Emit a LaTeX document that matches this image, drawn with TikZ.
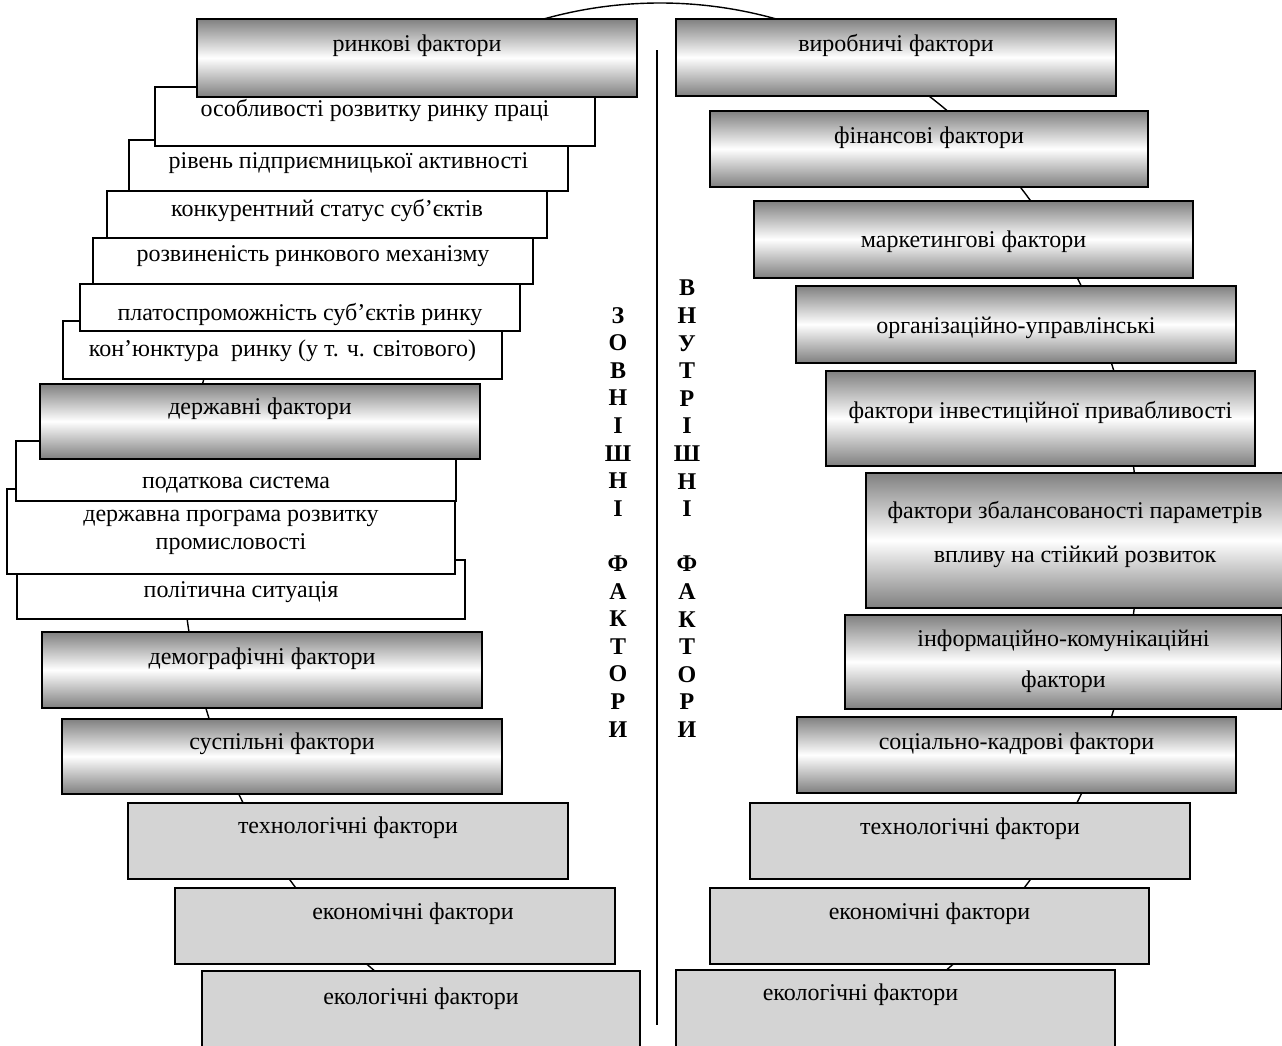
\documentclass[tikz,border=0pt]{standalone}
\usepackage{fontspec}
\setmainfont{Liberation Serif}
\tikzset{
    factor/.style n args={3}{
        draw,line width=1.6pt,anchor=north,inner sep=0pt,
        minimum width=#1pt,text height=#2pt,text depth=#3pt,
        align=center,font=\fontsize{24}{27.6}\selectfont
    },
    gradbox/.style={top color=black!50,bottom color=black!50,middle color=white},
    whitebox/.style={fill=white},
    greybox/.style={fill=black!17},
    letters/.style={anchor=north,inner sep=0pt,align=center,
        font=\fontsize{24}{27.6}\selectfont\bfseries},
}
\begin{document}
\begin{tikzpicture}[x=1pt,y=-1pt]
		\useasboundingbox (0,0) rectangle (1282,1045);
		\draw[line width=1.4pt] (660,540) ellipse [x radius=478,y radius=537];
		\draw[line width=1.4pt] (657,50) -- (657,1025);

		% external factors (lower boxes first)
		\node[factor={448}{38}{21},whitebox] (polit) at (241,559) {політична ситуація};
		\node[factor={448}{60.6}{24.4},whitebox] (prog) at (231,488) {державна програма розвитку\\промисловості};
		\node[factor={440}{48}{12},whitebox] (podat) at (236,440) {податкова система};
		\node[factor={440}{31}{44},gradbox] (derzh) at (260,383) {державні фактори};
		\node[factor={439}{36}{22},whitebox] (konj) at (282.5,320) {кон’юнктура\ \ ринку (у т. ч. світового)};
		\node[factor={440}{37}{10},whitebox] (plat) at (300,283) {платоспроможність суб’єктів ринку};
		\node[factor={440}{24}{22},whitebox] (rozv) at (313,237) {розвиненість ринкового механізму};
		\node[factor={440}{26}{21},whitebox] (konk) at (327,190) {конкурентний статус суб’єктів};
		\node[factor={439}{29}{22},whitebox] (riven) at (348.5,139) {рівень підприємницької активності};
		\node[factor={440}{30}{29},whitebox] (osobl) at (375,86) {особливості розвитку ринку праці};
		\node[factor={440}{33}{45},gradbox] (rynk) at (417,18) {ринкові фактори};
		\node[factor={440}{33}{43},gradbox] (demog) at (262,631) {демографічні фактори};
		\node[factor={440}{31}{44},gradbox] (susp) at (282,718) {суспільні фактори};
		\node[factor={440}{31}{45},greybox] (techL) at (348,802) {технологічні фактори};
		\node[factor={440}{32}{44},greybox] (econL) at (395,887) {\hspace*{36pt}економічні фактори};
		\node[factor={438}{34}{46},greybox] (ecolL) at (421,970) {екологічні фактори};

		% internal factors
		\node[factor={440}{33}{44},gradbox] (vyrob) at (896,18) {виробничі фактори};
		\node[factor={438}{33}{43},gradbox] (fin) at (929,110) {фінансові фактори};
		\node[factor={439}{47}{30},gradbox] (mark) at (973.5,200) {маркетингові фактори};
		\node[factor={440}{48}{29},gradbox] (org) at (1016,285) {організаційно-управлінські};
		\node[factor={429}{48}{47},gradbox] (inv) at (1040.5,370) {фактори інвестиційної привабливості};
		\node[factor={418}{90}{45},gradbox,font=\fontsize{24}{44}\selectfont] (bal) at (1075,472) {фактори збалансованості параметрів\\впливу на стійкий розвиток};
		\node[factor={437}{73}{21},gradbox,font=\fontsize{24}{41}\selectfont] (info) at (1063.5,614) {інформаційно-комунікаційні\\фактори};
		\node[factor={439}{33}{43},gradbox] (soc) at (1016.5,716) {соціально-кадрові фактори};
		\node[factor={440}{32}{44},greybox] (techR) at (970,802) {технологічні фактори};
		\node[factor={439}{32}{44},greybox] (econR) at (929.5,887) {економічні фактори};
		\node[factor={439}{31}{49},greybox] (ecolR) at (895.5,969) {екологічні фактори\hspace*{70pt}};

		\node[letters] (zovn) at (618,307) {З\\О\\В\\Н\\І\\Ш\\Н\\І\\[27.6pt]Ф\\А\\К\\Т\\О\\Р\\И};
		\node[letters] (vnutr) at (687,280) {В\\Н\\У\\Т\\Р\\І\\Ш\\Н\\І\\[27.6pt]Ф\\А\\К\\Т\\О\\Р\\И};
	\end{tikzpicture}
\end{document}
